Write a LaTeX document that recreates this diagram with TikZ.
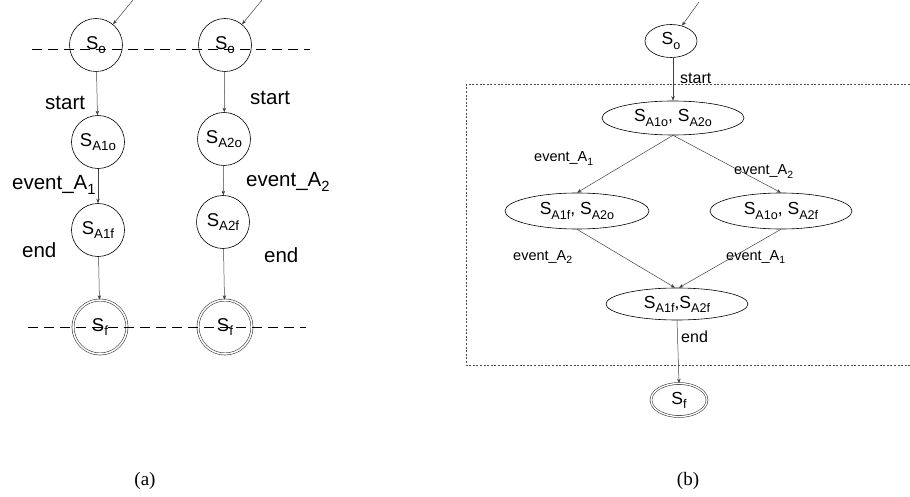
\documentclass[tikz,border=0pt]{standalone}
\usepackage{fontspec}
\usepackage{graphicx}
\setmainfont{Liberation Sans}
\newfontfamily\capfont{Liberation Serif}
\usetikzlibrary{shapes.geometric,arrows.meta}
% subscript used in state and event names
\newcommand\sbs[1]{\raisebox{-0.45ex}{\scalebox{0.72}{#1}}}
\begin{document}
\begin{tikzpicture}[x=1pt,y=-1pt,
  arr/.style={draw=black!75,line width=0.5pt,-{Stealth[length=4.5pt,width=3.5pt]}},
  stc/.style={circle,draw,line width=0.6pt,minimum size=53pt,inner sep=0pt,font=\fontsize{18.5}{20}\selectfont},
  finc/.style={stc,draw=black!75,double,double distance=1.5pt,line width=0.6pt,minimum size=54pt},
  ste/.style={ellipse,draw,line width=0.6pt,inner sep=0pt,font=\fontsize{17.5}{19}\selectfont},
  fine/.style={ste,draw=black!75,double,double distance=1.3pt,line width=0.6pt},
  lbla/.style={anchor=base west,inner sep=0pt,font=\fontsize{20.5}{22}\selectfont},
  lblb/.style={anchor=base west,inner sep=0pt,font=\fontsize{14.5}{16}\selectfont},
  lblc/.style={anchor=base west,inner sep=0pt,font=\fontsize{16}{18}\selectfont},
  cut/.style={line width=0.9pt,dash pattern=on 10pt off 6pt},
  caption/.style={anchor=base,inner sep=0pt,font=\capfont\fontsize{19}{21}\selectfont}]
\useasboundingbox (0,0) rectangle (910,497);

% ---------- (a): two separate automata ----------
\node[stc] (lo)  at (96,45)   {S\sbs{o}};
\node[stc] (l1)  at (98,142)  {S\sbs{A1o}};
\node[stc] (l2)  at (98,230)  {S\sbs{A1f}};
\node[finc] (lf) at (100,327) {S\sbs{f}};

\node[stc] (ro)  at (225,45)  {S\sbs{o}};
\node[stc] (r1)  at (224,139) {S\sbs{A2o}};
\node[stc] (r2)  at (223,222) {S\sbs{A2f}};
\node[finc] (rf) at (225,327) {S\sbs{f}};

\coordinate (lin) at (133,0);
\coordinate (rin) at (262,0);
\draw[arr] (lin) -- (lo);
\draw[arr] (rin) -- (ro);
\draw[arr] (lo) -- (l1);
\draw[arr] (l1) -- (l2);
\draw[arr] (l2) -- (lf);
\draw[arr] (ro) -- (r1);
\draw[arr] (r1) -- (r2);
\draw[arr] (r2) -- (rf);

\node[lbla] (ls) at (45,110)  {start};
\node[lbla] (le) at (12,190)  {event\_A\sbs{1}};
\node[lbla] (ln) at (22,257)  {end};
\node[lbla] (rs) at (250,105) {start};
\node[lbla] (re) at (246,187) {event\_A\sbs{2}};
\node[lbla] (rn) at (264,262) {end};

% synchronisation cuts
\coordinate (c1a) at (32,49);  \coordinate (c1b) at (310,49);
\coordinate (c2a) at (28,327); \coordinate (c2b) at (306,327);
\draw[cut] (c1a) -- (c1b);
\draw[cut] (c2a) -- (c2b);

\node[caption] (capa) at (145,485) {(a)};

% ---------- (b): product automaton ----------
\coordinate (b1) at (910,85);  \coordinate (b2) at (466,85);
\coordinate (b3) at (466,365); \coordinate (b4) at (910,365);
\draw[black!70,line width=1pt,dash pattern=on 2pt off 1.6pt] (b1) -- (b2) -- (b3) -- (b4);

\node[ste,minimum width=52pt,minimum height=33pt] (po) at (671,41) {S\sbs{o}};
\node[ste,minimum width=142pt,minimum height=34pt] (p1) at (673,118) {S\sbs{A1o}, S\sbs{A2o}};
\node[ste,minimum width=144pt,minimum height=36pt] (p2) at (577,211) {S\sbs{A1f}, S\sbs{A2o}};
\node[ste,minimum width=142pt,minimum height=36pt] (p3) at (781,211) {S\sbs{A1o}, S\sbs{A2f}};
\node[ste,minimum width=142pt,minimum height=32pt] (p4) at (677,304) {S\sbs{A1f},S\sbs{A2f}};
\node[fine,minimum width=56pt,minimum height=33pt] (pf) at (679,400) {S\sbs{f}};

\coordinate (pin) at (699,2);
\draw[arr] (pin) -- (po);
\draw[arr] (po.south -| 673,0) -- (p1);
\draw[arr] (p1.south) -- (p2.north);
\draw[arr] (p1.south) -- (p3.north);
\draw[arr] (p2.south) -- ([xshift=-2pt]p4.north);
\draw[arr] (p3.south) -- ([xshift=2pt]p4.north);
\draw[arr] (p4.south) -- (pf.north);

\node[lblc] (bs)  at (680,84)  {start};
\node[lblb] (be1) at (534,162) {event\_A\sbs{1}};
\node[lblb] (be2) at (734,175) {event\_A\sbs{2}};
\node[lblb] (be3) at (513,260) {event\_A\sbs{2}};
\node[lblb] (be4) at (726,260) {event\_A\sbs{1}};
\node[lblc] (bn)  at (681,342) {end};

\node[caption] (capb) at (688,485) {(b)};
\end{tikzpicture}
\end{document}
